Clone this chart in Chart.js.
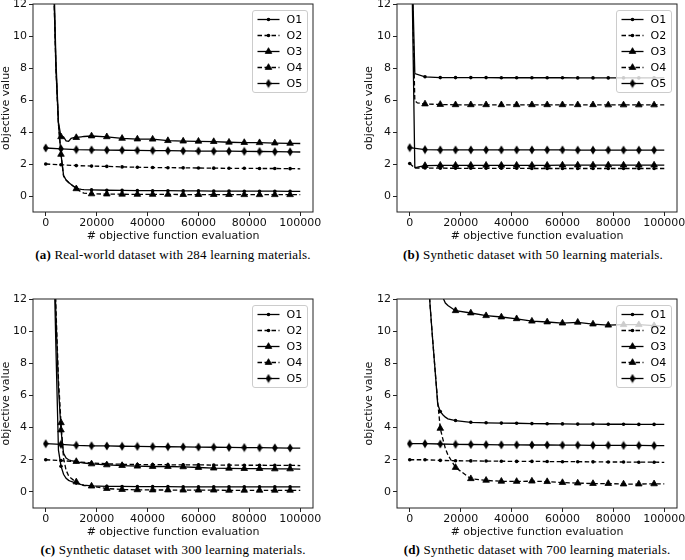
<!DOCTYPE html>
<html>
<head>
<meta charset="utf-8">
<script src="https://cdn.jsdelivr.net/npm/chart.js@4.4.0/dist/chart.umd.min.js"></script>
<style>
  html, body { margin: 0; padding: 0; background: #fff; }
  body { width: 685px; height: 560px; position: relative; overflow: hidden; }
  canvas { position: absolute; }
  .caption { position: absolute; font-family: 'Liberation Serif', 'DejaVu Serif', serif; font-size: 13px;
             letter-spacing: 0.2px; line-height: 15px; color: #000; text-align: center; white-space: nowrap; }
</style>
</head>
<body>
<canvas id="chartA" width="340" height="254" style="left:0;top:-10px"></canvas>
<canvas id="chartB" width="350" height="254" style="left:340px;top:-10px"></canvas>
<canvas id="chartC" width="340" height="251" style="left:0;top:289px"></canvas>
<canvas id="chartD" width="350" height="251" style="left:340px;top:289px"></canvas>
<div class="caption" style="left:0;width:346px;top:247px"><b>(a)</b> Real-world dataset with 284 learning materials.</div>
<div class="caption" style="left:333px;width:400px;top:247px"><b>(b)</b> Synthetic dataset with 50 learning materials.</div>
<div class="caption" style="left:0;width:346px;top:542px"><b>(c)</b> Synthetic dataset with 300 learning materials.</div>
<div class="caption" style="left:337px;width:400px;top:542px"><b>(d)</b> Synthetic dataset with 700 learning materials.</div>
<script>
// # objective function evaluations (markers every 6000)
const evals = [0, 1000, 2000, 3000, 4000, 5000, 6000, 7000, 8000, 9000, 10000, 11000, 12000, 13000, 14000, 15000,
  18000, 24000, 30000, 36000, 42000, 48000, 54000, 60000, 66000, 72000, 78000, 84000, 90000, 96000, 100000];
const seriesNames = ['O1', 'O2', 'O3', 'O4', 'O5'];
const xTicks = [0, 20000, 40000, 60000, 80000, 100000];
const yTicks = [0, 2, 4, 6, 8, 10, 12];

// (a) real-world, 284 materials
const aO1 = [60, 45, 30, 14, 8, 4.5, 2.6, 1.3, 1.0, 0.85, 0.72, 0.6, 0.5, 0.45, 0.42, 0.4, 0.38, 0.36, 0.35, 0.34, 0.33, 0.33, 0.32, 0.32, 0.31, 0.31, 0.3, 0.3, 0.3, 0.29, 0.29];
const aO2 = [2.0, null, null, null, null, null, 1.95, null, null, null, null, null, 1.9, null, null, null, 1.87, 1.85, 1.82, 1.8, 1.78, 1.77, 1.76, 1.75, 1.74, 1.73, 1.73, 1.72, 1.72, 1.71, 1.7];
const aO3 = [60, 45, 30, 15, 8.5, 4.6, 3.7, 3.7, 3.45, 3.42, 3.6, 3.65, 3.65, 3.68, 3.7, 3.72, 3.75, 3.7, 3.6, 3.56, 3.55, 3.46, 3.43, 3.42, 3.4, 3.36, 3.34, 3.33, 3.31, 3.29, 3.28];
const aO4 = [60, 45, 30, 14, 8, 4.5, 2.6, 1.25, 1.0, 0.85, 0.72, 0.6, 0.45, 0.35, 0.25, 0.18, 0.13, 0.12, 0.11, 0.1, 0.1, 0.1, 0.09, 0.09, 0.09, 0.09, 0.08, 0.08, 0.08, 0.08, 0.08];
const aO5 = [3.0, null, null, null, null, null, 2.95, null, null, null, null, null, 2.9, null, null, null, 2.88, 2.87, 2.86, 2.85, 2.84, 2.83, 2.82, 2.81, 2.8, 2.8, 2.79, 2.78, 2.77, 2.76, 2.75];

// (b) synthetic, 50 materials
const bO1 = [40, 14, 7.65, null, null, null, 7.45, null, null, null, null, null, 7.4, null, null, null, 7.4, 7.4, 7.4, 7.39, 7.39, 7.39, 7.39, 7.39, 7.38, 7.38, 7.38, 7.38, 7.38, 7.38, 7.38];
const bO2 = [2.03, null, 1.75, null, null, null, 1.75, null, null, null, null, null, 1.74, null, null, null, 1.73, 1.73, 1.73, 1.73, 1.73, 1.72, 1.72, 1.72, 1.72, 1.72, 1.72, 1.72, 1.72, 1.72, 1.72];
const bO3 = [40, 12.5, 1.78, 1.8, null, null, 1.9, null, null, null, null, null, 1.92, null, null, null, 1.92, 1.92, 1.92, 1.92, 1.92, 1.92, 1.92, 1.93, 1.93, 1.93, 1.93, 1.93, 1.93, 1.93, 1.93];
const bO4 = [40, 13, 5.95, 5.82, null, null, 5.75, null, null, null, null, null, 5.72, null, null, null, 5.7, 5.7, 5.7, 5.7, 5.7, 5.7, 5.7, 5.7, 5.7, 5.7, 5.69, 5.69, 5.69, 5.69, 5.69];
const bO5 = [3.02, null, null, null, null, null, 2.9, null, null, null, null, null, 2.88, null, null, null, 2.88, 2.88, 2.88, 2.88, 2.88, 2.88, 2.88, 2.88, 2.87, 2.87, 2.87, 2.87, 2.87, 2.87, 2.87];

// (c) synthetic, 300 materials
const cO1 = [60, 45, 30, 16, 9, 2.6, 1.6, 1.1, 0.85, 0.72, 0.65, 0.6, 0.55, 0.5, 0.45, 0.42, 0.38, 0.35, 0.34, 0.33, 0.33, 0.33, 0.32, 0.32, 0.32, 0.32, 0.32, 0.32, 0.32, 0.32, 0.32];
const cO2 = [2.0, null, null, null, null, null, 1.95, null, null, null, null, null, 1.88, null, null, null, 1.8, 1.75, 1.72, 1.7, 1.7, 1.69, 1.68, 1.68, 1.67, 1.67, 1.66, 1.66, 1.65, 1.65, 1.64];
const cO3 = [60, 45, 30, 17, 11, 6.5, 3.85, 2.4, 2.1, 2.0, 1.95, 1.92, 1.89, 1.85, 1.82, 1.8, 1.74, 1.68, 1.64, 1.6, 1.58, 1.58, 1.56, 1.52, 1.48, 1.47, 1.45, 1.45, 1.43, 1.43, 1.42];
const cO4 = [60, 45, 30, 17, 11.5, 7, 4.3, 2.1, 1.35, 1.0, 0.85, 0.72, 0.62, 0.52, 0.45, 0.4, 0.36, 0.21, 0.15, 0.13, 0.12, 0.12, 0.11, 0.11, 0.11, 0.1, 0.1, 0.1, 0.1, 0.1, 0.1];
const cO5 = [3.0, null, null, null, null, null, 2.96, null, null, null, null, null, 2.9, null, null, null, 2.87, 2.86, 2.84, 2.83, 2.82, 2.81, 2.8, 2.79, 2.78, 2.77, 2.76, 2.75, 2.74, 2.73, 2.72];

// (d) synthetic, 700 materials
const dO1 = [90, 80, 70, 60, 45, 32, 22, 14, 11.6, 9.5, 7.5, 5.45, 5.0, 4.8, 4.65, 4.55, 4.44, 4.33, 4.3, 4.28, 4.27, 4.25, 4.24, 4.23, 4.22, 4.22, 4.21, 4.21, 4.2, 4.2, 4.2];
const dO2 = [2.0, null, null, null, null, null, 2.0, null, null, null, null, null, 1.96, null, null, null, 1.94, 1.93, 1.92, 1.91, 1.9, 1.9, 1.89, 1.88, 1.88, 1.87, 1.86, 1.86, 1.85, 1.85, 1.84];
const dO3 = [90, 80, 70, 60, 50, 40, 32, 26, 22, 19, 16.5, 14.5, 13, 12.1, 11.75, 11.6, 11.27, 11.13, 10.96, 10.88, 10.77, 10.62, 10.57, 10.5, 10.55, 10.44, 10.37, 10.4, 10.4, 10.34, 10.3];
const dO4 = [90, 80, 70, 60, 45, 32, 22, 14, 11.6, 9.5, 7.5, 5.6, 3.95, 3.3, 2.7, 2.3, 1.52, 0.82, 0.72, 0.66, 0.65, 0.67, 0.64, 0.58, 0.55, 0.52, 0.52, 0.49, 0.49, 0.5, 0.5];
const dO5 = [3.0, null, null, null, null, null, 3.0, null, null, null, null, null, 2.98, null, null, null, 2.96, 2.95, 2.94, 2.93, 2.93, 2.92, 2.92, 2.91, 2.91, 2.9, 2.9, 2.89, 2.89, 2.88, 2.88];

Chart.defaults.font.family = "'DejaVu Sans', sans-serif";
Chart.defaults.font.size = 11;
Chart.defaults.color = '#111';

// thin diamond marker like matplotlib 'd'
const thinDiamond = document.createElement('canvas');
thinDiamond.width = 6; thinDiamond.height = 10;
(function () {
  const g = thinDiamond.getContext('2d');
  g.fillStyle = '#000';
  g.beginPath();
  g.moveTo(3, 0.5); g.lineTo(5.8, 5); g.lineTo(3, 9.5); g.lineTo(0.2, 5);
  g.closePath(); g.fill();
})();

const styles = [
  { dash: [], point: 'circle', r: 1.8, bw: 0 },
  { dash: [4.5, 2.5], point: 'circle', r: 1.8, bw: 0 },
  { dash: [], point: 'triangle', r: 3.8, bw: 0.8 },
  { dash: [4.5, 2.5], point: 'triangle', r: 3.8, bw: 0.8 },
  { dash: [], point: thinDiamond, r: 4, bw: 0 }
];

// frame on four sides + legend box inside the axes, top right
const frameAndLegend = {
  id: 'frameAndLegend',
  afterDatasetsDraw(chart) {
    const { ctx, chartArea: a } = chart;
    ctx.save();
    ctx.strokeStyle = '#222';
    ctx.lineWidth = 1;
    ctx.setLineDash([]);
    ctx.strokeRect(a.left, a.top, a.right - a.left, a.bottom - a.top);

    const w = 55, h = 82;
    const x0 = Math.round(a.right - 6 - w) + 0.5, y0 = Math.round(a.top + 6) + 0.5;
    ctx.fillStyle = 'rgba(255,255,255,0.8)';
    ctx.strokeStyle = '#ccc';
    ctx.beginPath();
    ctx.roundRect(x0, y0, w, h, 2.5);
    ctx.fill();
    ctx.stroke();

    chart.data.datasets.forEach((ds, i) => {
      const y = y0 + 9 + i * 16;
      ctx.strokeStyle = '#000';
      ctx.lineWidth = ds.borderWidth;
      ctx.setLineDash(ds.borderDash);
      ctx.beginPath();
      ctx.moveTo(x0 + 5, y);
      ctx.lineTo(x0 + 27, y);
      ctx.stroke();
      ctx.setLineDash([]);
      ctx.fillStyle = '#000';
      ctx.lineWidth = styles[i].bw;
      Chart.helpers.drawPoint(ctx, { pointStyle: ds.pointStyle, radius: styles[i].r, borderWidth: styles[i].bw, rotation: 0 }, x0 + 16, y);
      ctx.fillStyle = '#000';
      ctx.font = "11px 'DejaVu Sans'";
      ctx.textBaseline = 'middle';
      ctx.textAlign = 'left';
      ctx.fillText(ds.label, x0 + 34, y + 0.5);
    });
    ctx.restore();
  }
};

function makeChart(id, series, yAxisWidth, yTitlePad, padTop, padRight) {
  const datasets = series.map((vals, k) => ({
    label: seriesNames[k],
    data: evals.map((x, i) => ({ x: x, y: vals[i] })),
    borderColor: '#000',
    backgroundColor: '#000',
    borderWidth: 1.3,
    borderDash: styles[k].dash,
    pointStyle: styles[k].point,
    pointRadius: evals.map(x => (x % 6000 === 0 && x < 100000) ? styles[k].r : 0),
    pointBorderWidth: styles[k].bw,
    pointBackgroundColor: '#000',
    pointBorderColor: '#000',
    spanGaps: true,
    tension: 0,
    order: 5 - k
  }));

  new Chart(document.getElementById(id), {
    type: 'line',
    data: { datasets: datasets },
    options: {
      responsive: false,
      animation: false,
      layout: { padding: { left: 0, top: padTop, right: padRight, bottom: 0 } },
      plugins: { legend: { display: false }, tooltip: { enabled: false } },
      scales: {
        x: {
          type: 'linear', min: -5000, max: 105000,
          afterBuildTicks: s => { s.ticks = xTicks.map(v => ({ value: v })); },
          afterFit: s => { s.height = 32; },
          grid: { display: true, drawOnChartArea: false, drawTicks: true, tickLength: 4, color: '#222' },
          border: { display: false },
          ticks: { padding: 1, maxRotation: 0, autoSkip: false, callback: v => String(v) },
          title: { display: true, text: '# objective function evaluation', padding: { top: 0, bottom: 1 } }
        },
        y: {
          type: 'linear', min: -1, max: 12,
          afterBuildTicks: s => { s.ticks = yTicks.map(v => ({ value: v })); },
          afterFit: s => { s.width = yAxisWidth; },
          grid: { display: true, drawOnChartArea: false, drawTicks: true, tickLength: 4, color: '#222' },
          border: { display: false },
          ticks: { padding: 2, callback: v => String(v) },
          title: { display: true, text: 'objective value', padding: { top: yTitlePad, bottom: 0 } }
        }
      }
    },
    plugins: [frameAndLegend]
  });
}

makeChart('chartA', [aO1, aO2, aO3, aO4, aO5], 33, 0, 14, 27);
makeChart('chartB', [bO1, bO2, bO3, bO4, bO5], 57, 23, 14, 13);
makeChart('chartC', [cO1, cO2, cO3, cO4, cO5], 33, 0, 10, 27);
makeChart('chartD', [dO1, dO2, dO3, dO4, dO5], 57, 23, 10, 13);
</script>
</body>
</html>
